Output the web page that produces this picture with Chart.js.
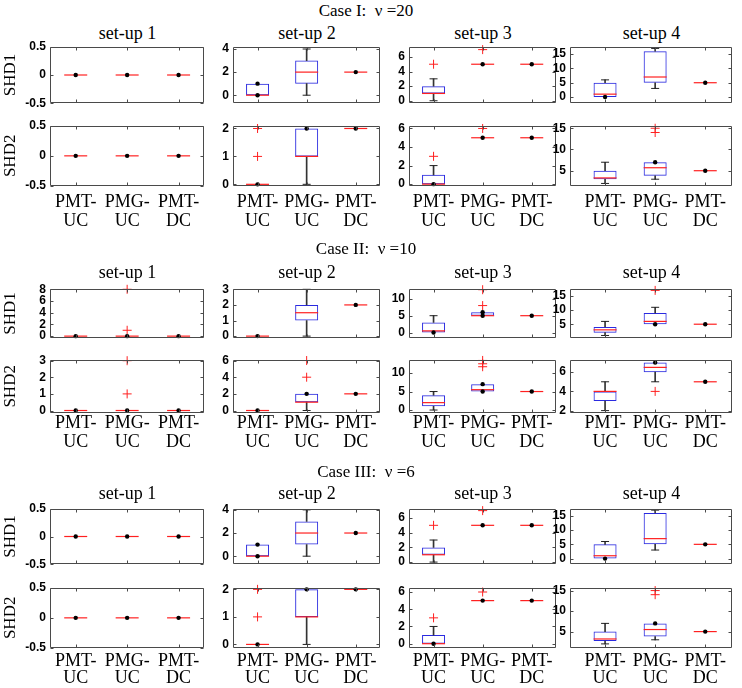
<!DOCTYPE html>
<html lang="en">
<head>
<meta charset="UTF-8">
<title>SHD boxplots</title>
<script src="https://cdn.jsdelivr.net/npm/chart.js"></script>
<style>
  body { margin: 0; background: #fff; }
  #fig { position: relative; width: 742px; height: 688px; overflow: hidden; background: #fff; }
  #fig canvas { position: absolute; }
  .txt { position: absolute; font-family: 'Liberation Serif', 'Times New Roman', serif; color: #000;
         white-space: pre; transform: translate(-50%, -50%); line-height: 1; }
</style>
</head>
<body>
<div id="fig"></div>
<script>
// categories and titles
const categories = ['PMT-UC', 'PMG-UC', 'PMT-DC'];
const caseTitles = ['Case I:  \u03bd =20', 'Case II:  \u03bd =10', 'Case III:  \u03bd =6'];
const setupTitles = ['set-up 1', 'set-up 2', 'set-up 3', 'set-up 4'];
const rowTitles = ['SHD1', 'SHD2'];
const n = null;

// one entry per set-up, one value per category (null = nothing drawn)
// Case I, SHD1
const caseI_SHD1_q1  = [[n, n, n], [0, 1, n], [1, n, n], [0, 5, n]];
const caseI_SHD1_med = [[0, 0, 0], [0, 2, 2], [1, 5, 5], [1, 7, 5]];
const caseI_SHD1_q3  = [[n, n, n], [1, 3, n], [2, n, n], [5, 16, n]];
const caseI_SHD1_lo  = [[n, n, n], [n, 0, n], [0, n, n], [n, 3, n]];
const caseI_SHD1_hi  = [[n, n, n], [n, 4, n], [3, n, n], [6, 17, n]];
const caseI_SHD1_out = [[[], [], []], [[], [], []], [[5], [7], []], [[], [], []]];
const caseI_SHD1_dot = [[[0], [0], [0]], [[1, 0], [], [2]], [[], [5], [5]], [[0], [], [5]]];
const caseI_SHD1_ticks = [[-0.5, 0, 0.5], [0, 2, 4], [0, 2, 4, 6], [0, 5, 10, 15]];
const caseI_SHD1_lim = [[-0.5, 0.5], [-0.7, 4.2], [-0.35, 7.4], [-2.2, 17.6]];

// Case I, SHD2
const caseI_SHD2_q1  = [[n, n, n], [n, 1, n], [0, n, n], [3, 3.8, n]];
const caseI_SHD2_med = [[0, 0, 0], [0, 1, 2], [0, 5, 5], [3.3, 5.7, 5]];
const caseI_SHD2_q3  = [[n, n, n], [n, 2, n], [1, n, n], [5, 7, n]];
const caseI_SHD2_lo  = [[n, n, n], [n, 0, n], [n, n, n], [2, 3, n]];
const caseI_SHD2_hi  = [[n, n, n], [n, n, n], [2, n, n], [7, n, n]];
const caseI_SHD2_out = [[[], [], []], [[1, 2], [], []], [[3], [6], []], [[], [14, 15], []]];
const caseI_SHD2_dot = [[[0], [0], [0]], [[0], [2], [2]], [[0], [5], [5]], [[], [7], [5]]];
const caseI_SHD2_ticks = [[-0.5, 0, 0.5], [0, 1, 2], [0, 2, 4, 6], [5, 10, 15]];
const caseI_SHD2_lim = [[-0.5, 0.5], [-0.06, 2.1], [-0.2, 6.3], [1.4, 15.6]];

// Case II, SHD1
const caseII_SHD1_q1  = [[n, n, n], [n, 1, n], [0, 5, n], [2, 5, n]];
const caseII_SHD1_med = [[0, 0, 0], [0, 1.5, 2], [0.5, 5, 5], [3, 6, 5]];
const caseII_SHD1_q3  = [[n, n, n], [n, 2, n], [3, 6, n], [4, 9, n]];
const caseII_SHD1_lo  = [[n, n, n], [n, 0, n], [n, n, n], [1, n, n]];
const caseII_SHD1_hi  = [[n, n, n], [n, 3, n], [5, n, n], [6, 11, n]];
const caseII_SHD1_out = [[[], [1, 8], []], [[], [], []], [[], [8, 12.7], []], [[], [17], []]];
const caseII_SHD1_dot = [[[0], [0], [0]], [[0], [], [2]], [[0], [6, 5], [5]], [[], [5], [5]]];
const caseII_SHD1_ticks = [[0, 2, 4, 6, 8], [0, 1, 2, 3], [0, 5, 10], [5, 10, 15]];
const caseII_SHD1_lim = [[-0.37, 8.1], [-0.14, 3.04], [-1.7, 13], [0, 17.6]];

// Case II, SHD2
const caseII_SHD2_q1  = [[n, n, n], [n, 1, n], [1, 5, n], [3, 6, n]];
const caseII_SHD2_med = [[0, 0, 0], [0, 1, 2], [2, 5.5, 5], [4, 6.5, 5]];
const caseII_SHD2_q3  = [[n, n, n], [n, 2, n], [4, 7, n], [4, 7, n]];
const caseII_SHD2_lo  = [[n, n, n], [n, 0, n], [0, n, n], [2, 5, n]];
const caseII_SHD2_hi  = [[n, n, n], [n, n, n], [5, n, n], [5, n, n]];
const caseII_SHD2_out = [[[], [1, 3], []], [[], [4, 6], []], [[], [11.7, 12.5, 13.4], []], [[], [4], []]];
const caseII_SHD2_dot = [[[0], [0], [0]], [[0], [2], [2]], [[], [7, 5], [5]], [[], [7], [5]]];
const caseII_SHD2_ticks = [[0, 1, 2, 3], [0, 2, 4, 6], [0, 5, 10], [2, 4, 6]];
const caseII_SHD2_lim = [[-0.15, 3.06], [-0.3, 6.1], [-0.8, 13.6], [1.75, 7.3]];

// Case III, SHD1
const caseIII_SHD1_q1  = [[n, n, n], [0, 1, n], [1, n, n], [0, 5, n]];
const caseIII_SHD1_med = [[0, 0, 0], [0, 2, 2], [1, 5, 5], [1, 7, 5]];
const caseIII_SHD1_q3  = [[n, n, n], [1, 3, n], [2, n, n], [5, 16, n]];
const caseIII_SHD1_lo  = [[n, n, n], [n, 0, n], [0, n, n], [n, 3, n]];
const caseIII_SHD1_hi  = [[n, n, n], [n, 4, n], [3, n, n], [6, 17, n]];
const caseIII_SHD1_out = [[[], [], []], [[], [], []], [[5], [7], []], [[], [], []]];
const caseIII_SHD1_dot = [[[0], [0], [0]], [[1, 0], [], [2]], [[], [5], [5]], [[0], [], [5]]];
const caseIII_SHD1_ticks = [[-0.5, 0, 0.5], [0, 2, 4], [0, 2, 4, 6], [0, 5, 10, 15]];
const caseIII_SHD1_lim = [[-0.5, 0.5], [-0.7, 4.1], [-0.3, 7.26], [-2, 17.5]];

// Case III, SHD2
const caseIII_SHD2_q1  = [[n, n, n], [n, 1, n], [0, n, n], [2.7, 3.8, n]];
const caseIII_SHD2_med = [[0, 0, 0], [0, 1, 2], [0, 5, 5], [3.2, 5.5, 5]];
const caseIII_SHD2_q3  = [[n, n, n], [n, 2, n], [1, n, n], [5, 7, n]];
const caseIII_SHD2_lo  = [[n, n, n], [n, 0, n], [n, n, n], [2, 3, n]];
const caseIII_SHD2_hi  = [[n, n, n], [n, n, n], [2, n, n], [7, n, n]];
const caseIII_SHD2_out = [[[], [], []], [[1, 2], [], []], [[3], [6], []], [[], [14, 15], []]];
const caseIII_SHD2_dot = [[[0], [0], [0]], [[0], [2], [2]], [[0], [5], [5]], [[], [7], [5]]];
const caseIII_SHD2_ticks = [[-0.5, 0, 0.5], [0, 1, 2], [0, 2, 4, 6], [5, 10, 15]];
const caseIII_SHD2_lim = [[-0.5, 0.5], [-0.13, 2.06], [-0.5, 6.5], [1, 15.7]];

const rowsData = [
  [caseI_SHD1_q1, caseI_SHD1_med, caseI_SHD1_q3, caseI_SHD1_lo, caseI_SHD1_hi, caseI_SHD1_out, caseI_SHD1_dot, caseI_SHD1_ticks, caseI_SHD1_lim],
  [caseI_SHD2_q1, caseI_SHD2_med, caseI_SHD2_q3, caseI_SHD2_lo, caseI_SHD2_hi, caseI_SHD2_out, caseI_SHD2_dot, caseI_SHD2_ticks, caseI_SHD2_lim],
  [caseII_SHD1_q1, caseII_SHD1_med, caseII_SHD1_q3, caseII_SHD1_lo, caseII_SHD1_hi, caseII_SHD1_out, caseII_SHD1_dot, caseII_SHD1_ticks, caseII_SHD1_lim],
  [caseII_SHD2_q1, caseII_SHD2_med, caseII_SHD2_q3, caseII_SHD2_lo, caseII_SHD2_hi, caseII_SHD2_out, caseII_SHD2_dot, caseII_SHD2_ticks, caseII_SHD2_lim],
  [caseIII_SHD1_q1, caseIII_SHD1_med, caseIII_SHD1_q3, caseIII_SHD1_lo, caseIII_SHD1_hi, caseIII_SHD1_out, caseIII_SHD1_dot, caseIII_SHD1_ticks, caseIII_SHD1_lim],
  [caseIII_SHD2_q1, caseIII_SHD2_med, caseIII_SHD2_q3, caseIII_SHD2_lo, caseIII_SHD2_hi, caseIII_SHD2_out, caseIII_SHD2_dot, caseIII_SHD2_ticks, caseIII_SHD2_lim]
];

// page layout (pixels)
const colLeft  = [50, 233, 409, 570];
const colRight = [209, 385, 561, 737];
const colXRange = [[0.5, 3.5], [0.5, 3.5], [0.5, 3.5], [0.3, 3.54]];
const rowBox = [[44, 106, 123, 186], [286, 341, 357, 413], [506, 567, 585, 648]];
const caseTitleY = [10, 248, 471];
const setupTitleY = [33, 272, 493];
const xLabelPad = [7, 1, 5];
const xLabelLine = [1.06, 1.06, 0.95];

const fig = document.getElementById('fig');

function addText(str, x, y, size) {
  const d = document.createElement('div');
  d.className = 'txt';
  d.style.left = x + 'px';
  d.style.top = y + 'px';
  d.style.fontSize = size + 'px';
  d.textContent = str;
  fig.appendChild(d);
}

// axes box with small inward ticks, like the original plots
const frame = {
  id: 'frame',
  afterDraw(chart) {
    const {ctx, chartArea: a, scales: {x, y}} = chart;
    const L = Math.round(a.left) + 0.5, R = Math.round(a.right) - 0.5;
    const T = Math.round(a.top) + 0.5, B = Math.round(a.bottom) - 0.5;
    ctx.save();
    ctx.strokeStyle = '#4a4a4a';
    ctx.lineWidth = 1;
    ctx.beginPath();
    ctx.rect(L, T, R - L, B - T);
    x.ticks.forEach((t, i) => {
      const px = Math.round(x.getPixelForTick(i)) + 0.5;
      ctx.moveTo(px, T); ctx.lineTo(px, T + 3);
      ctx.moveTo(px, B); ctx.lineTo(px, B - 3);
    });
    y.ticks.forEach((t, i) => {
      const py = Math.round(y.getPixelForTick(i)) + 0.5;
      ctx.moveTo(L, py); ctx.lineTo(L + 3, py);
      ctx.moveTo(R, py); ctx.lineTo(R - 3, py);
    });
    ctx.stroke();
    ctx.restore();
  }
};

const pts = arr => arr.map((v, i) => v == null ? null : {x: i + 1, y: v}).filter(Boolean);
const ranges = (a, b) => a.map((v, i) => (v == null || b[i] == null) ? null : {x: i + 1, y: [a[i], b[i]]}).filter(Boolean);
const multi = arr => arr.flatMap((vs, i) => vs.map(v => ({x: i + 1, y: v})));

function makePanel(ci, ri, si) {
  const [q1, med, q3, lo, hi, out, dot, ticks, lim] = rowsData[ci * 2 + ri].map(a => a[si]);
  const left = colLeft[si], right = colRight[si];
  const top = rowBox[ci][ri * 2], bottom = rowBox[ci][ri * 2 + 1];
  const yW = si === 0 ? left : 34;
  const padT = 10, padR = 8;
  const xH = ri === 1 ? 52 : 0;
  const padB = ri === 1 ? 0 : 10;
  const cv = document.createElement('canvas');
  cv.width = yW + (right - left) + padR;
  cv.height = padT + (bottom - top) + xH + padB;
  cv.style.left = (left - yW) + 'px';
  cv.style.top = (top - padT) + 'px';
  fig.appendChild(cv);

  const pointSet = (data, style, radius, color, width) => ({
    type: 'line', data, showLine: false, clip: false,
    pointStyle: style, pointRadius: radius, pointHoverRadius: radius,
    pointBorderColor: color, pointBackgroundColor: color, pointBorderWidth: width
  });

  new Chart(cv, {
    type: 'bar',
    data: {
      datasets: [
        pointSet(multi(dot), 'circle', 2.2, '#000', 0),
        pointSet(multi(out), 'cross', 4.5, '#ff2020', 1),
        pointSet(pts(med), 'line', 11.5, '#ff2020', 1.2),
        pointSet(pts(lo).concat(pts(hi)), 'line', 4, '#222', 1),
        {type: 'bar', data: ranges(lo, q1), barThickness: 1, backgroundColor: '#333', borderWidth: 0, grouped: false},
        {type: 'bar', data: ranges(q3, hi), barThickness: 1, backgroundColor: '#333', borderWidth: 0, grouped: false},
        {type: 'bar', data: ranges(q1, q3), barThickness: 23, backgroundColor: 'rgba(0,0,0,0)',
         borderColor: '#2a2ae0', borderWidth: 1, borderSkipped: false, inflateAmount: 0, grouped: false}
      ]
    },
    options: {
      responsive: false,
      animation: false,
      devicePixelRatio: 1,
      events: [],
      layout: {padding: {top: padT, right: padR, bottom: padB, left: 0}},
      plugins: {legend: {display: false}, tooltip: {enabled: false}},
      scales: {
        x: {
          type: 'linear', offset: false, min: colXRange[si][0], max: colXRange[si][1],
          afterBuildTicks: s => { s.ticks = categories.map((c, i) => ({value: i + 1})); },
          afterFit: s => { s.height = xH; },
          grid: {display: false, drawTicks: false},
          border: {display: false},
          ticks: {
            display: ri === 1, autoSkip: false, maxRotation: 0, padding: xLabelPad[ci], color: '#000',
            font: {family: 'Liberation Serif', size: 18, lineHeight: xLabelLine[ci]},
            callback: v => {
              const c = categories[Math.round(v) - 1];
              const k = c.indexOf('-');
              return [c.slice(0, k + 1), c.slice(k + 1)];
            }
          }
        },
        y: {
          type: 'linear', min: lim[0], max: lim[1],
          afterBuildTicks: s => { s.ticks = ticks.map(v => ({value: v})); },
          afterFit: s => { s.width = yW; },
          grid: {display: false, drawTicks: false},
          border: {display: false},
          ticks: {
            autoSkip: false, padding: 4, color: '#000',
            font: {family: 'Liberation Sans', size: 12, weight: 'bold'},
            callback: v => String(v)
          },
          title: {
            display: si === 0, text: rowTitles[ri], color: '#000', padding: {top: 0, bottom: 0},
            font: {family: 'Liberation Serif', size: 17, lineHeight: 1.2}
          }
        }
      }
    },
    plugins: [frame]
  });
}

for (let ci = 0; ci < 3; ci++) {
  addText(caseTitles[ci], 366, caseTitleY[ci], 17);
  for (let si = 0; si < 4; si++) {
    addText(setupTitles[si], (colLeft[si] + colRight[si]) / 2 - 2, setupTitleY[ci], 18);
    for (let ri = 0; ri < 2; ri++) makePanel(ci, ri, si);
  }
}
</script>
</body>
</html>
